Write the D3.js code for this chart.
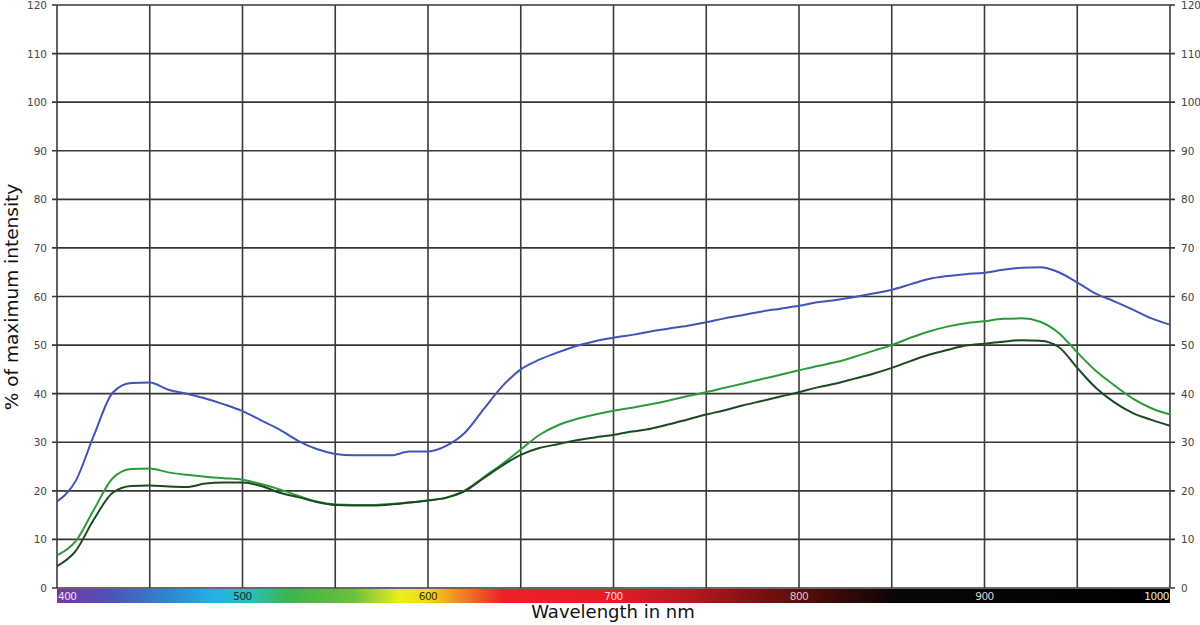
<!DOCTYPE html>
<html><head><meta charset="utf-8">
<script src="https://cdn.jsdelivr.net/npm/d3@7"></script>
<style>body{margin:0;background:#fff}svg{display:block}</style>
</head><body>
<svg id="c" width="1200" height="625"></svg>
<script>
const wavelengths = d3.range(400, 1001, 10);
const blueSeries = [17.8,22.0,31.5,40.2,42.2,42.3,40.8,40.0,39.0,37.8,36.4,34.5,32.6,30.3,28.6,27.6,27.3,27.3,27.3,28.1,28.1,29.3,32.0,36.8,41.5,45.0,47.0,48.5,49.8,50.8,51.5,52.1,52.8,53.4,54.0,54.7,55.5,56.2,56.9,57.5,58.1,58.8,59.3,59.9,60.6,61.4,62.5,63.6,64.2,64.6,64.9,65.5,65.9,66.0,65.0,62.9,60.6,59.0,57.3,55.5,54.2];
const greenSeries = [6.7,9.6,16.2,22.6,24.5,24.6,23.8,23.3,22.9,22.6,22.3,21.4,20.3,19.0,17.8,17.2,17.1,17.1,17.3,17.6,18.0,18.6,20.1,22.8,25.5,28.5,31.5,33.5,34.8,35.7,36.5,37.1,37.8,38.6,39.5,40.3,41.2,42.1,43.0,43.9,44.8,45.7,46.5,47.6,48.8,50.0,51.5,52.8,53.8,54.5,54.9,55.4,55.5,54.8,52.5,48.5,44.7,41.7,39.0,37.0,35.7];
const darkSeries = [4.5,7.6,14.2,19.6,21.0,21.1,20.9,20.8,21.5,21.7,21.7,21.0,19.6,18.7,17.7,17.1,17.0,17.0,17.2,17.6,18.0,18.6,20.0,22.6,25.2,27.4,28.8,29.6,30.4,31.0,31.5,32.2,32.8,33.7,34.7,35.7,36.6,37.6,38.5,39.4,40.3,41.3,42.1,43.1,44.1,45.3,46.7,48.0,49.0,49.9,50.3,50.7,51.0,50.9,49.6,45.3,41.2,38.2,36.0,34.6,33.4];
const yTicks = [0,10,20,30,40,50,60,70,80,90,100,110,120];
const xGrid = d3.range(400, 1001, 50);
const spectrumLabels = [400,500,600,700,800,900,1000];
const spectrumLabelColors = ["#e8e0f0","#1a2a2a","#3a3000","#ffd8d8","#e0c0c0","#d8d8d8","#e8e8e8"];
const spectrumStops = [[400,"#7a35a8"],[430,"#4a55b8"],[460,"#2f86cf"],[485,"#22b2e6"],[505,"#26c0b8"],[525,"#3db44a"],[560,"#6cbf3c"],[585,"#ecec20"],[600,"#f2d81c"],[620,"#f07a22"],[640,"#ec2228"],[700,"#e41c2a"],[740,"#b81820"],[780,"#7a1010"],[820,"#3a0a0a"],[850,"#0a0606"],[1000,"#000000"]];
const seriesColors = ["#4353b8","#2e9a3c","#1b4a1f"];

const L = 57, R = 1170, T = 5, B = 588;
const svg = d3.select("#c");
const x = d3.scaleLinear().domain([400,1000]).range([L,R]);
const y = d3.scaleLinear().domain([0,120]).range([B,T]);

const defs = svg.append("defs");
const grad = defs.append("linearGradient").attr("id","spec").attr("x1","0").attr("x2","1").attr("y1","0").attr("y2","0");
spectrumStops.forEach(s => grad.append("stop").attr("offset",((s[0]-400)/600)).attr("stop-color",s[1]));

// grid
const g = svg.append("g");
g.selectAll("line.h").data(yTicks).join("line")
  .attr("x1",L-5).attr("x2",R+5).attr("y1",d=>y(d)).attr("y2",d=>y(d))
  .attr("stroke","#363636").attr("stroke-width",1.6);
g.selectAll("line.v").data(xGrid).join("line")
  .attr("x1",d=>x(d)).attr("x2",d=>x(d)).attr("y1",T).attr("y2",B)
  .attr("stroke","#3a3a3a").attr("stroke-width",1.6);

// y labels
const font = "DejaVu Sans, Verdana, sans-serif";
svg.selectAll("text.yl").data(yTicks).join("text")
  .attr("x",47).attr("y",d=>y(d)+4).attr("text-anchor","end")
  .attr("font-family",font).attr("font-size",10.5).attr("fill","#444").text(d=>d);
svg.selectAll("text.yr").data(yTicks).join("text")
  .attr("x",1181).attr("y",d=>y(d)+4).attr("text-anchor","start")
  .attr("font-family",font).attr("font-size",10.5).attr("fill","#444").text(d=>d);

// spectrum bar
svg.append("rect").attr("x",L).attr("y",B+1).attr("width",R-L).attr("height",14).attr("fill","url(#spec)");
svg.selectAll("text.sl").data(spectrumLabels).join("text")
  .attr("x",d=> d===400 ? x(d)+1 : d===1000 ? x(d)-1 : x(d))
  .attr("y",B+12)
  .attr("text-anchor",d=> d===400 ? "start" : d===1000 ? "end" : "middle")
  .attr("font-family",font).attr("font-size",10.5).attr("letter-spacing",-0.5)
  .attr("fill",(d,i)=>spectrumLabelColors[i]).text(d=>d);

// lines
const line = d3.line().x((d,i)=>x(wavelengths[i])).y(d=>y(d)).curve(d3.curveMonotoneX);
[blueSeries, greenSeries, darkSeries].forEach((s,i)=>{
  svg.append("path").attr("d",line(s)).attr("fill","none")
    .attr("stroke",seriesColors[i]).attr("stroke-width",2);
});

// titles
svg.append("text").attr("x",613).attr("y",618).attr("text-anchor","middle")
  .attr("font-family",font).attr("font-size",18).attr("fill","#111").text("Wavelength in nm");
svg.append("text").attr("transform","translate(18,297) rotate(-90)").attr("text-anchor","middle")
  .attr("font-family",font).attr("font-size",18.5).attr("fill","#111").text("% of maximum intensity");
</script>
</body></html>
